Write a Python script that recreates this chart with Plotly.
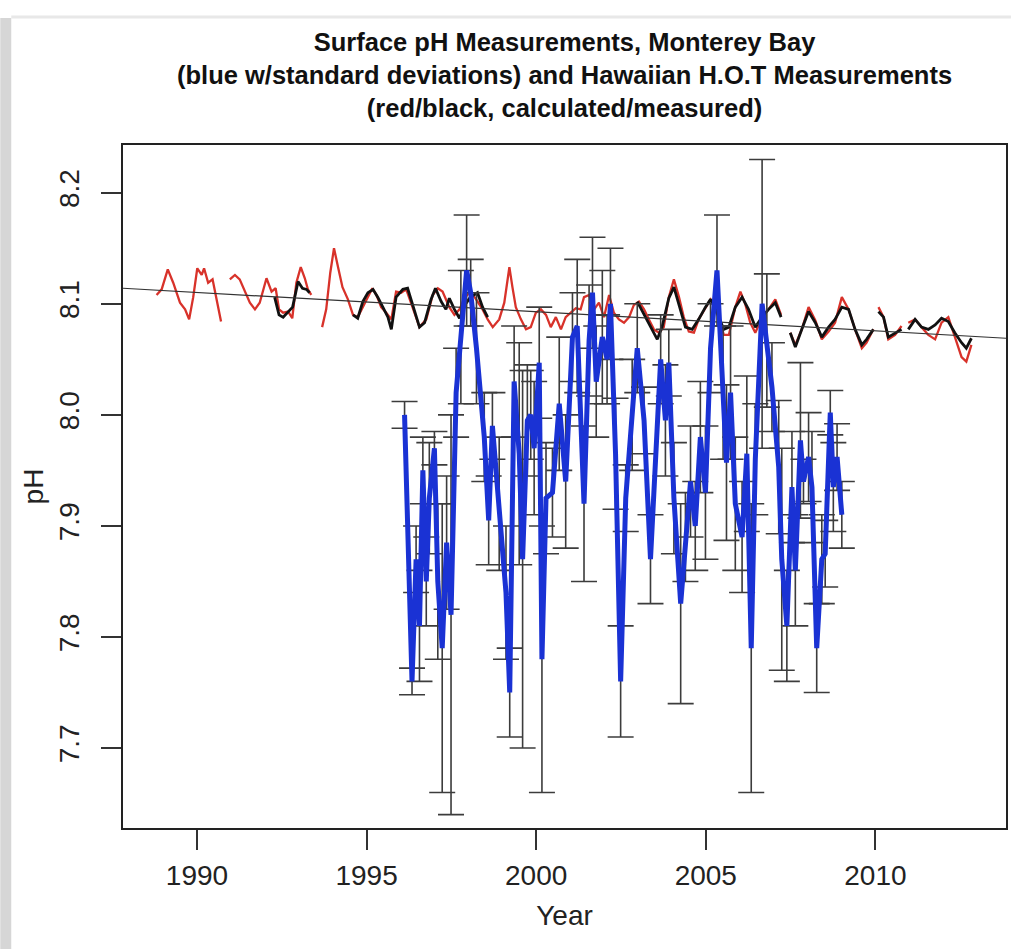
import plotly.graph_objects as go

# ---- Data ----
# Hawaii HOT calculated pH (red); None marks a gap in the record
red_year = [1988.81, 1988.96, 1989.14, 1989.30, 1989.50, 1989.65, 1989.77, 1989.89, 1990.01, 1990.14,
            1990.21, 1990.33, 1990.46, 1990.58, 1990.71, None,
            1990.97, 1991.12, 1991.26, 1991.38, 1991.56, 1991.71, 1991.85, 1992.05, 1992.20, 1992.32,
            1992.42, 1992.54, 1992.69, 1992.81, 1992.93, 1993.06, 1993.18, 1993.27, 1993.37, None,
            1993.69, 1993.81, 1993.93, 1994.04, 1994.16, 1994.29, 1994.45, 1994.60, 1994.74, 1994.89,
            1995.04, 1995.17, 1995.29, 1995.43, 1995.58, 1995.73, 1995.87, 1996.02, 1996.17, 1996.31,
            1996.46, 1996.56, 1996.76, 1996.95, 1997.10, 1997.24, 1997.44, 1997.59, 1997.74, 1997.88,
            1998.03, 1998.21, 1998.42, 1998.57, 1998.72, 1998.91, 1999.06, 1999.16, 1999.21, 1999.30,
            1999.40, 1999.55, 1999.70, 1999.84, 1999.99, 2000.14, 2000.29, 2000.43, 2000.58, 2000.73,
            2000.87, 2001.02, 2001.17, 2001.31, 2001.41, 2001.56, 2001.71, 2001.85, 2002.00, 2002.15,
            2002.29, 2002.44, 2002.59, 2002.74, 2002.88, 2003.03, 2003.18, 2003.32, 2003.47, 2003.62,
            2003.76, 2003.91, 2004.06, 2004.21, 2004.35, 2004.50, 2004.65, 2004.79, 2004.99, 2005.14,
            2005.33, 2005.53, 2005.68, 2005.87, 2006.02, 2006.16, 2006.31, 2006.46, 2006.66, 2006.85,
            2007.05, 2007.22, None,
            2007.49, 2007.64, 2007.83, 2008.03, 2008.23, 2008.42, 2008.62, 2008.81, 2009.01, 2009.21,
            2009.40, 2009.60, 2009.74, 2009.94, None,
            2010.09, 2010.24, 2010.38, 2010.58, 2010.77, None,
            2010.97, 2011.17, 2011.36, 2011.56, 2011.76, 2011.95, 2012.15, 2012.34, 2012.54, 2012.68,
            2012.83]
red_ph = [8.108, 8.113, 8.131, 8.119, 8.101, 8.095, 8.086, 8.106, 8.132, 8.126,
          8.132, 8.119, 8.122, 8.104, 8.084, None,
          8.122, 8.126, 8.122, 8.113, 8.101, 8.095, 8.101, 8.123, 8.111, 8.114,
          8.095, 8.092, 8.093, 8.087, 8.119, 8.133, 8.123, 8.113, 8.108, None,
          8.079, 8.095, 8.128, 8.150, 8.133, 8.115, 8.104, 8.090, 8.088, 8.097,
          8.106, 8.114, 8.108, 8.097, 8.092, 8.086, 8.111, 8.110, 8.113, 8.101,
          8.088, 8.079, 8.086, 8.108, 8.114, 8.111, 8.097, 8.090, 8.095, 8.105,
          8.110, 8.105, 8.095, 8.086, 8.079, 8.086, 8.101, 8.122, 8.133, 8.115,
          8.097, 8.086, 8.077, 8.079, 8.092, 8.095, 8.090, 8.079, 8.088, 8.077,
          8.088, 8.092, 8.096, 8.095, 8.106, 8.108, 8.095, 8.101, 8.088, 8.108,
          8.092, 8.086, 8.083, 8.088, 8.099, 8.102, 8.095, 8.086, 8.077, 8.074,
          8.079, 8.106, 8.122, 8.106, 8.088, 8.075, 8.074, 8.086, 8.097, 8.104,
          8.095, 8.072, 8.072, 8.097, 8.111, 8.100, 8.083, 8.074, 8.088, 8.095,
          8.104, 8.090, None,
          8.074, 8.063, 8.077, 8.097, 8.085, 8.068, 8.075, 8.083, 8.106, 8.095,
          8.077, 8.060, 8.065, 8.077, None,
          8.097, 8.088, 8.068, 8.072, 8.080, None,
          8.083, 8.086, 8.079, 8.072, 8.068, 8.083, 8.088, 8.070, 8.052, 8.048,
          8.063]

# Hawaii HOT measured pH (black)
black_year = [1992.29, 1992.42, 1992.54, 1992.69, 1992.82, 1992.98, 1993.11, 1993.23, 1993.32, None,
              1994.60, 1994.74, 1994.89, 1995.04, 1995.19, 1995.33, 1995.48, 1995.63, 1995.73, 1995.87,
              1996.07, 1996.21, 1996.36, 1996.56, 1996.71, 1996.90, 1997.03, 1997.20, 1997.34, 1997.44,
              1997.59, 1997.74, 1997.88, 1998.06, 1998.27, 1998.42, 1998.57, None,
              2002.98, 2003.23, 2003.42, 2003.57, 2003.71, 2003.91, 2004.06, 2004.21, 2004.40, 2004.60,
              2004.79, 2004.99, 2005.14, 2005.33, 2005.53, 2005.68, 2005.87, 2006.07, 2006.26, 2006.46,
              2006.66, 2006.85, 2007.05, 2007.22, None,
              2007.49, 2007.64, 2007.83, 2008.03, 2008.23, 2008.42, 2008.62, 2008.81, 2009.01, 2009.21,
              2009.40, 2009.60, 2009.74, 2009.94, None,
              2010.09, 2010.24, 2010.38, 2010.58, 2010.77, None,
              2010.97, 2011.17, 2011.36, 2011.56, 2011.76, 2011.95, 2012.15, 2012.34, 2012.54, 2012.68,
              2012.83]
black_ph = [8.106, 8.090, 8.088, 8.093, 8.097, 8.120, 8.114, 8.113, 8.110, None,
            8.090, 8.087, 8.102, 8.110, 8.113, 8.106, 8.097, 8.088, 8.077, 8.106,
            8.113, 8.114, 8.099, 8.079, 8.083, 8.104, 8.114, 8.102, 8.095, 8.105,
            8.095, 8.087, 8.098, 8.106, 8.110, 8.097, 8.088, None,
            8.102, 8.088, 8.077, 8.068, 8.079, 8.105, 8.115, 8.100, 8.079, 8.077,
            8.086, 8.097, 8.104, 8.092, 8.077, 8.079, 8.097, 8.106, 8.095, 8.079,
            8.088, 8.095, 8.101, 8.088, None,
            8.074, 8.061, 8.077, 8.093, 8.083, 8.070, 8.079, 8.086, 8.097, 8.095,
            8.077, 8.063, 8.068, 8.077, None,
            8.093, 8.088, 8.070, 8.074, 8.077, None,
            8.077, 8.086, 8.079, 8.077, 8.081, 8.087, 8.084, 8.074, 8.065, 8.060,
            8.069]

# Monterey Bay surface pH (blue) with standard deviations
blue_year = [1996.12, 1996.34, 1996.46, 1996.56, 1996.66, 1996.76, 1996.85, 1997.00, 1997.10, 1997.23,
             1997.36, 1997.49, 1997.64, 1997.78, 1997.95, 1998.07, 1998.24, 1998.47, 1998.60, 1998.71,
             1998.91, 1999.11, 1999.22, 1999.35, 1999.50, 1999.60, 1999.74, 1999.84, 1999.94, 2000.09,
             2000.17, 2000.29, 2000.48, 2000.68, 2000.87, 2001.07, 2001.21, 2001.41, 2001.56, 2001.66,
             2001.77, 2001.95, 2002.09, 2002.19, 2002.34, 2002.49, 2002.64, 2002.83, 2002.98, 2003.18,
             2003.37, 2003.67, 2003.81, 2003.91, 2004.06, 2004.26, 2004.40, 2004.55, 2004.69, 2004.84,
             2004.99, 2005.14, 2005.33, 2005.51, 2005.61, 2005.73, 2005.87, 2006.07, 2006.21, 2006.34,
             2006.46, 2006.66, 2006.80, 2006.95, 2007.15, 2007.24, 2007.39, 2007.54, 2007.64, 2007.79,
             2007.88, 2008.03, 2008.13, 2008.27, 2008.42, 2008.52, 2008.67, 2008.76, 2008.87, 2009.01]
blue_ph = [8.000, 7.760, 7.870, 7.810, 7.950, 7.850, 7.925, 7.970, 7.850, 7.790,
           7.885, 7.820, 8.020, 8.070, 8.130, 8.110, 8.060, 7.980, 7.905, 7.990,
           7.920, 7.840, 7.750, 8.030, 7.965, 7.870, 7.995, 8.000, 7.970, 8.047,
           7.780, 7.925, 7.930, 8.010, 7.940, 8.070, 8.080, 7.920, 8.067, 8.110,
           8.030, 8.070, 8.050, 8.100, 7.965, 7.760, 7.925, 8.000, 8.060, 7.995,
           7.870, 8.050, 7.995, 8.047, 7.925, 7.830, 7.890, 7.940, 7.900, 7.980,
           7.930, 8.060, 8.130, 8.020, 7.957, 8.020, 7.920, 7.890, 7.965, 7.790,
           7.960, 8.100, 8.067, 8.025, 7.953, 7.870, 7.810, 7.935, 7.860, 7.977,
           7.940, 7.962, 7.935, 7.790, 7.870, 7.875, 8.002, 7.935, 7.962, 7.910]
blue_sd = [0.012, 0.012, 0.030, 0.050, 0.030, 0.040, 0.050, 0.015, 0.070, 0.130,
           0.060, 0.180, 0.040, 0.060, 0.050, 0.030, 0.050, 0.040, 0.040, 0.030,
           0.060, 0.060, 0.040, 0.050, 0.100, 0.170, 0.050, 0.040, 0.060, 0.050,
           0.120, 0.050, 0.040, 0.060, 0.060, 0.040, 0.060, 0.070, 0.050, 0.050,
           0.050, 0.060, 0.040, 0.050, 0.050, 0.050, 0.030, 0.050, 0.040, 0.030,
           0.040, 0.040, 0.050, 0.030, 0.050, 0.090, 0.040, 0.050, 0.040, 0.050,
           0.060, 0.040, 0.050, 0.060, 0.070, 0.060, 0.060, 0.050, 0.070, 0.130,
           0.050, 0.130, 0.060, 0.040, 0.060, 0.100, 0.050, 0.050, 0.050, 0.070,
           0.020, 0.040, 0.050, 0.040, 0.040, 0.030, 0.020, 0.040, 0.030, 0.030]

# Linear trend line (end points at the plot edges)
trend_year = [1987.82, 2013.85]
trend_ph = [8.114, 8.069]

x_ticks = [1990, 1995, 2000, 2005, 2010]
y_ticks = [7.7, 7.8, 7.9, 8.0, 8.1, 8.2]
y_tick_labels = ["7.7", "7.8", "7.9", "8.0", "8.1", "8.2"]

title_lines = ["Surface pH Measurements, Monterey Bay",
               "(blue w/standard deviations) and Hawaiian H.O.T Measurements",
               "(red/black, calculated/measured)"]

# ---- Figure ----
W, H = 1013, 949
ML, MR, MT, MB = 123, 5, 145, 121
PW, PH = W - ML - MR, H - MT - MB
FONT = "Liberation Sans, Arial, Helvetica, sans-serif"

def px_x(px):
    return (px - ML) / PW

def px_y(py):
    return 1 - (py - MT) / PH

fig = go.Figure()

fig.add_trace(go.Scatter(x=red_year, y=red_ph, mode="lines",
                         line=dict(color="#d8322a", width=2.3), hoverinfo="skip"))
fig.add_trace(go.Scatter(x=black_year, y=black_ph, mode="lines",
                         line=dict(color="#111111", width=2.8), hoverinfo="skip"))
fig.add_trace(go.Scatter(x=trend_year, y=trend_ph, mode="lines",
                         line=dict(color="#333333", width=1.2), hoverinfo="skip"))
fig.add_trace(go.Scatter(x=blue_year, y=blue_ph, mode="markers",
                         marker=dict(size=1, color="rgba(0,0,0,0)"),
                         error_y=dict(type="data", array=blue_sd, visible=True,
                                      color="#3c3c3c", thickness=1.6, width=13),
                         hoverinfo="skip"))
fig.add_trace(go.Scatter(x=blue_year, y=blue_ph, mode="lines",
                         line=dict(color="#1a32d4", width=5), hoverinfo="skip"))

# three-line bold title as one text block
fig.add_annotation(text="<br>".join("<b>" + t + "</b>" for t in title_lines),
                   xref="paper", yref="paper", x=0.5, y=px_y(75),
                   xanchor="center", yanchor="middle", align="center",
                   showarrow=False, font=dict(family=FONT, size=25.5, color="#111111"))

# card-like shadow at the left and top of the picture
fig.add_shape(type="rect", xref="paper", yref="paper",
              x0=px_x(0), x1=px_x(11), y0=px_y(H), y1=px_y(18),
              fillcolor="#d6d6d6", line=dict(width=0), layer="below")
fig.add_shape(type="line", xref="paper", yref="paper",
              x0=px_x(11), x1=px_x(W), y0=px_y(17), y1=px_y(17),
              line=dict(color="#e8e8e8", width=3), layer="below")

fig.update_layout(
    width=W, height=H,
    margin=dict(l=ML, r=MR, t=MT, b=MB),
    paper_bgcolor="white", plot_bgcolor="white",
    showlegend=False,
    font=dict(family=FONT, size=28, color="#222222"),
    xaxis=dict(range=[1987.82, 2013.85], tickvals=x_ticks, ticks="outside", ticklen=20,
               tickwidth=1.5, tickcolor="#333", showline=True, linecolor="#222", linewidth=2,
               mirror=True, showgrid=False, zeroline=False, ticklabelstandoff=1,
               title=dict(text="Year", standoff=16, font=dict(size=28))),
    yaxis=dict(range=[7.628, 8.243], tickvals=y_ticks, ticktext=y_tick_labels, ticks="outside",
               ticklen=20, tickwidth=1.5, tickcolor="#333", showline=True, linecolor="#222",
               linewidth=2, mirror=True, showgrid=False, zeroline=False, tickangle=-90,
               ticklabelstandoff=11,
               title=dict(text="pH", standoff=2, font=dict(size=28))),
)

fig.write_html("out.html", config={"displayModeBar": False},
               post_script="document.body.style.margin='0';")
